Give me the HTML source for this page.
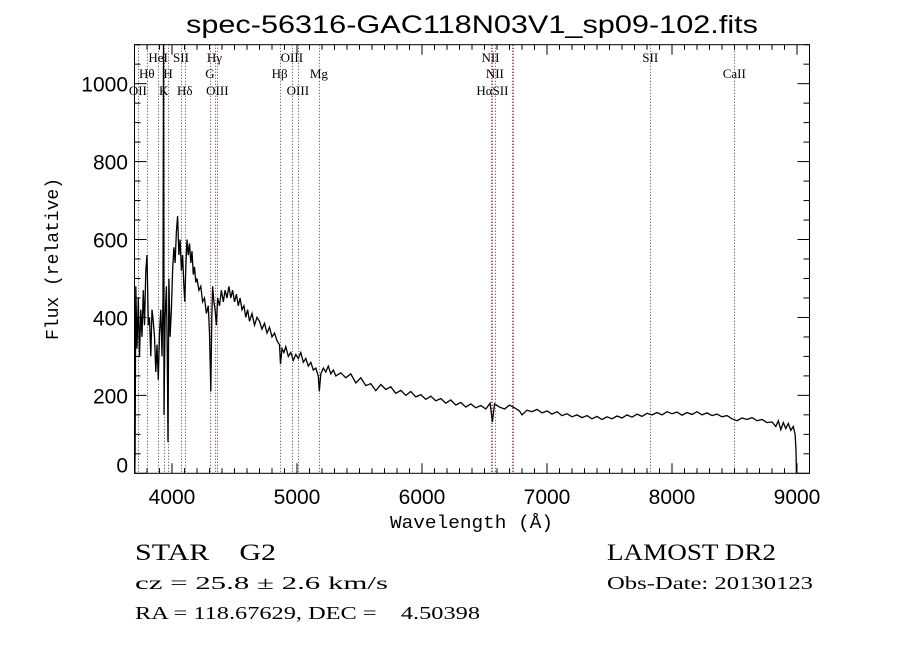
<!DOCTYPE html>
<html><head><meta charset="utf-8"><style>
body{margin:0;background:#fff;}
svg text{fill:#000;}
</style></head><body>
<svg id="chart" width="900" height="649" xmlns="http://www.w3.org/2000/svg">
<rect width="900" height="649" fill="#fff"/>
<defs><clipPath id="plotclip"><rect x="134.5" y="44.7" width="675" height="428.6"/></clipPath></defs>
<text x="186" y="33" font-family="Liberation Sans, sans-serif" font-size="25" textLength="572" lengthAdjust="spacingAndGlyphs">spec-56316-GAC118N03V1_sp09-102.fits</text>
<g id="lines"></g>
<g id="linelabels" font-family="Liberation Serif, serif" font-size="13"></g>
<path id="spec" fill="none" stroke="#000" stroke-width="1.3" clip-path="url(#plotclip)"/>
<g id="axes"></g>
<text x="390" y="528" font-family="Liberation Mono, monospace" font-size="18" textLength="163" lengthAdjust="spacingAndGlyphs">Wavelength (Å)</text>
<text transform="translate(58,340) rotate(-90)" font-family="Liberation Mono, monospace" font-size="18" textLength="162" lengthAdjust="spacingAndGlyphs">Flux (relative)</text>
<g font-family="Liberation Serif, serif">
<text x="135" y="560" font-size="23" xml:space="preserve" textLength="141" lengthAdjust="spacingAndGlyphs">STAR    G2</text>
<text x="135" y="589" font-size="18" textLength="253" lengthAdjust="spacingAndGlyphs">cz = 25.8 ± 2.6 km/s</text>
<text x="135" y="619" font-size="18" xml:space="preserve" textLength="345" lengthAdjust="spacingAndGlyphs">RA = 118.67629, DEC =    4.50398</text>
<text x="607" y="560" font-size="23" textLength="169" lengthAdjust="spacingAndGlyphs">LAMOST DR2</text>
<text x="607" y="589" font-size="18" textLength="206" lengthAdjust="spacingAndGlyphs">Obs-Date: 20130123</text>
</g>
</svg>
<script>
const xTicks=[4000,5000,6000,7000,8000,9000];
const yTicks=[0,200,400,600,800,1000];
const lineWl=[3727,3798,3889,3934,3969,4072,4102,4304,4340,4363,4861,4959,5007,5175,6548,6563,6583,6717,6731,7826,8498];
const labelText=["HeI","SII","Hγ","OIII","NII","SII","Hθ","H","G","Hβ","Mg","NII","CaII","OII","K","Hδ","OIII","OIII","HαSII"];
const labelWl=[3889,4072,4340,4959,6548,7826,3798,3969,4304,4861,5175,6583,8498,3727,3934,4102,4363,5007,6563];
const labelRow=[0,0,0,0,0,0,1,1,1,1,1,1,1,2,2,2,2,2,2];
const wl=[3702,3705,3710,3720,3730,3740,3750,3760,3770,3780,3790,3800,3810,3820,3830,3840,3850,3860,3870,3880,3890,3900,3910,3920,3928,3932,3936,3945,3955,3962,3968,3975,3985,3995,4005,4015,4025,4035,4045,4055,4065,4075,4085,4095,4102,4110,4120,4130,4140,4150,4160,4170,4180,4190,4200,4215,4230,4245,4260,4275,4290,4300,4310,4318,4325,4335,4345,4355,4365,4380,4395,4410,4425,4440,4455,4470,4485,4500,4515,4530,4545,4560,4575,4590,4605,4620,4640,4660,4680,4700,4720,4740,4760,4780,4800,4820,4840,4860,4868,4880,4895,4910,4930,4950,4970,4990,5010,5030,5050,5070,5090,5110,5130,5150,5170,5178,5190,5210,5230,5250,5270,5290,5310,5350,5390,5430,5470,5510,5550,5590,5630,5670,5710,5750,5790,5830,5870,5910,5950,5990,6030,6070,6110,6150,6190,6230,6270,6310,6350,6390,6430,6470,6510,6545,6563,6580,6620,6660,6700,6740,6780,6800,6840,6880,6920,6960,7000,7040,7080,7120,7160,7200,7240,7280,7320,7360,7400,7440,7480,7520,7560,7600,7640,7680,7720,7760,7800,7840,7880,7920,7960,8000,8040,8080,8120,8160,8200,8240,8280,8320,8360,8400,8440,8480,8520,8560,8600,8640,8680,8720,8760,8800,8830,8850,8870,8890,8910,8930,8950,8970,8985,8992,8995];
const flux=[0,60,480,320,450,300,420,350,470,380,520,560,380,400,300,420,390,350,260,330,240,360,420,300,450,1120,150,400,480,300,80,500,350,420,520,580,540,620,660,560,600,520,560,480,440,530,600,560,590,540,570,510,530,490,500,470,480,440,450,410,430,360,210,400,480,440,420,380,450,430,470,440,470,450,480,450,470,440,460,430,450,420,430,400,420,390,410,380,400,390,370,385,360,375,350,360,340,330,280,320,310,325,300,310,290,305,295,310,285,295,275,285,265,270,250,210,255,270,260,275,255,265,250,258,245,255,232,245,225,230,212,228,215,222,205,213,200,210,196,202,190,198,186,192,180,188,175,182,170,178,168,174,165,180,132,178,170,165,175,168,160,150,162,158,164,155,160,152,158,148,153,145,150,143,148,140,146,138,145,140,147,142,150,144,152,146,154,150,156,150,158,153,157,149,156,151,158,150,155,148,152,145,148,140,135,142,138,143,135,138,130,132,120,135,112,130,115,128,110,120,100,60,0];
const X0=134.5,X1=809.5,Y0=473.3,Y1=44.7,WMIN=3700,WMAX=9100,FMIN=0,FMAX=1100;
function sx(w){return X0+(w-WMIN)/(WMAX-WMIN)*(X1-X0);}
function sy(f){return Y0-(f-FMIN)/(FMAX-FMIN)*(Y0-Y1);}
const NS='http://www.w3.org/2000/svg';
function mk(tag,attrs,parent){const e=document.createElementNS(NS,tag);for(const k in attrs)e.setAttribute(k,attrs[k]);parent.appendChild(e);return e;}
const gl=document.getElementById('lines');
lineWl.forEach(w=>{const x=Math.round(sx(w))+0.5;const l=mk('line',{x1:x,x2:x,y1:Y1,y2:Y0,stroke:'#8b3030','stroke-width':1,'stroke-dasharray':'1,2'},gl);

});
const glab=document.getElementById('linelabels');
const rowY=[62,78,95];
labelText.forEach((t,i)=>{const e=mk('text',{x:sx(labelWl[i]),y:rowY[labelRow[i]],'text-anchor':'middle'},glab);e.textContent=t;

});
let d='';wl.forEach((w,i)=>{d+=(i?'L':'M')+sx(w).toFixed(1)+','+sy(flux[i]).toFixed(1);});
document.getElementById('spec').setAttribute('d',d);
const ga=document.getElementById('axes');
mk('rect',{x:X0,y:Y1,width:X1-X0,height:Y0-Y1,fill:'none',stroke:'#000','stroke-width':1},ga);
for(let w=3700;w<=9100;w+=100){const maj=w%1000===0;const L=maj?10:5;
mk('line',{x1:sx(w),x2:sx(w),y1:Y0,y2:Y0-L,stroke:'#000'},ga);
mk('line',{x1:sx(w),x2:sx(w),y1:Y1,y2:Y1+L,stroke:'#000'},ga);}
for(let f=0;f<=1100;f+=50){const maj=f%200===0;const L=maj?12:6;
mk('line',{x1:X0,x2:X0+L,y1:sy(f),y2:sy(f),stroke:'#000'},ga);
mk('line',{x1:X1,x2:X1-L,y1:sy(f),y2:sy(f),stroke:'#000'},ga);}
xTicks.forEach(v=>{const t=mk('text',{x:sx(v),y:504,'text-anchor':'middle','font-family':'Liberation Sans, sans-serif','font-size':21},ga);t.textContent=v;

});
yTicks.forEach(v=>{const t=mk('text',{x:128,y:(v===0?sy(v)-1:sy(v)+8),'text-anchor':'end','font-family':'Liberation Sans, sans-serif','font-size':21},ga);t.textContent=v;

});
</script>
</body></html>
